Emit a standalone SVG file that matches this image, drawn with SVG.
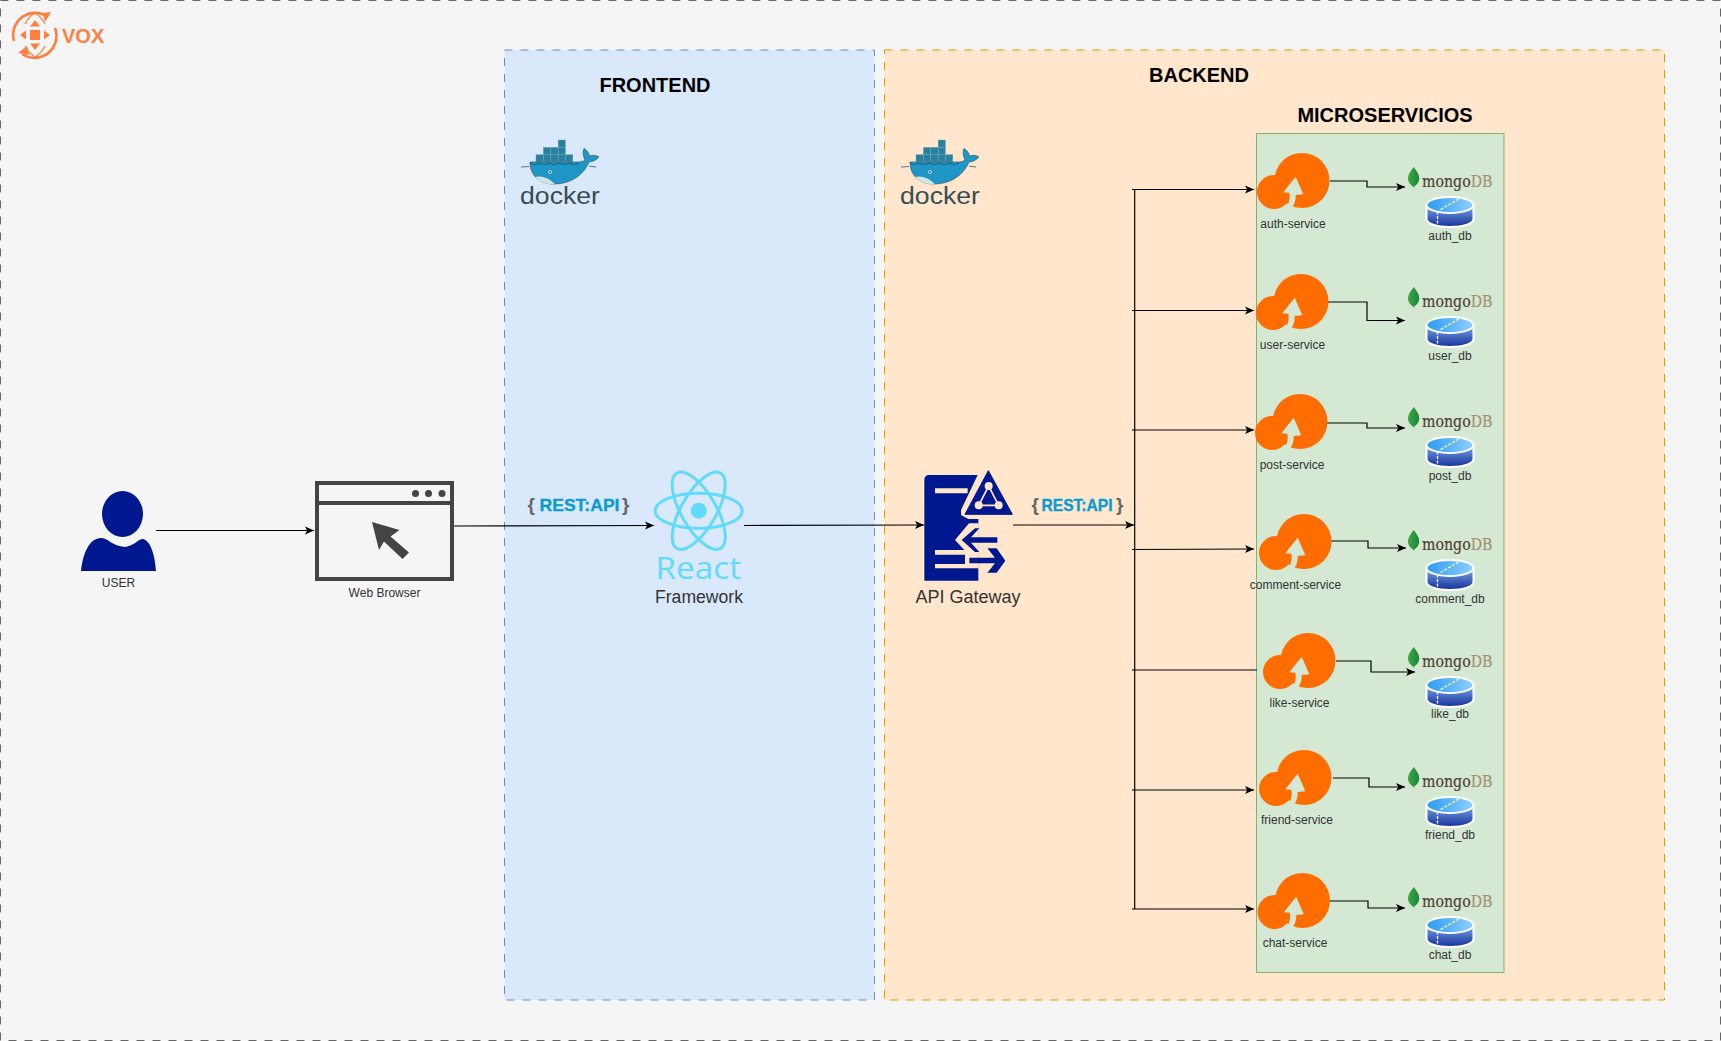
<svg xmlns="http://www.w3.org/2000/svg" width="1721" height="1041" viewBox="0 0 1721 1041">
<style>
text{font-family:"Liberation Sans",Arial,sans-serif;fill:#333}
.lbl{font-size:12px;text-anchor:middle;dominant-baseline:central}
.big{font-size:18px;text-anchor:middle;dominant-baseline:central}
.ttl{font-size:20px;font-weight:bold;text-anchor:middle;fill:#000;dominant-baseline:central}
.c{fill:none;stroke:#000;stroke-width:1.2;marker-end:url(#arr)}
.n{fill:none;stroke:#000;stroke-width:1.2}
.rest{font-size:17px;font-weight:bold;fill:#0b9bd2;stroke:#0b9bd2;stroke-width:.35}
.br{font-size:19px;font-weight:bold;fill:#666}
.docktxt{font-family:"Liberation Sans",sans-serif;font-size:23.500px;fill:#394d54}
.mg{font-family:"DejaVu Serif",serif;font-size:16px;fill:#4f3f2f;stroke:#4f3f2f;stroke-width:.2}
.mgb{fill:#a39070;stroke:#a39070}
.dash{stroke-dasharray:8 8}
</style>
<defs>
<marker id="arr" markerUnits="userSpaceOnUse" markerWidth="10" markerHeight="10" refX="9" refY="5" orient="auto"><path d="M0,1 L9,5 L0,9 L2.2,5Z" fill="#000"/></marker>
<linearGradient id="cylTop" x1="0" y1="0" x2="1" y2="0"><stop offset="0" stop-color="#2e9bf0"/><stop offset="1" stop-color="#8fd0ff"/></linearGradient>
<linearGradient id="cylBody" x1="0" y1="0" x2="0" y2="1"><stop offset="0" stop-color="#7da9e6"/><stop offset="1" stop-color="#13309a"/></linearGradient>
<linearGradient id="leaf" x1="0" y1="0" x2="1" y2="0"><stop offset="0" stop-color="#4aa544"/><stop offset="1" stop-color="#0f8a3c"/></linearGradient>
<symbol id="cloud" width="73" height="57" viewBox="0 0 73 57" overflow="visible">
<circle cx="17" cy="39" r="17" fill="#ff6d00"/><circle cx="45" cy="27.500" r="27.500" fill="#ff6d00"/>
<path d="M38.700,23.700 L26.300,39.300 L32.300,39.700 C33.500,45 32,51 28,56.800 L33.700,56.500 C37.500,52 39,47 38.700,42 L46.300,41.300Z" fill="#d5e8d4"/>
</symbol>
<symbol id="cyl" width="49" height="32" viewBox="0 0 49 32" overflow="visible">
<path d="M1,9 L1,23 C1,27.500 11,31 24.500,31 C38,31 48,27.500 48,23 L48,9Z" fill="url(#cylBody)" stroke="#fff" stroke-width="2"/>
<ellipse cx="24.500" cy="9" rx="23.500" ry="8" fill="url(#cylTop)" stroke="#fff" stroke-width="2"/>
<path d="M15,13.500 L34,2.500 M12,15.500 L12,28" stroke="#fff" stroke-width="1.300" stroke-dasharray="3 1.500" fill="none"/>
</symbol>
<symbol id="mongo" width="86" height="24" viewBox="0 0 86 24" overflow="visible">
<path d="M5.700,0 C8.500,4 11.200,7 11.200,11.500 C11.200,15.500 8,18.500 6.200,19.500 L5.700,21.500 L5.200,19.500 C3,18.500 0,15.500 0,11.500 C0,7 3,4 5.700,0Z" fill="url(#leaf)"/>
<text class="mg" x="14" y="20" textLength="70.500" lengthAdjust="spacingAndGlyphs">mongo<tspan class="mgb">DB</tspan></text>
</symbol>
<symbol id="docker" width="84" height="70" viewBox="0 0 84 70" overflow="visible">
<g fill="#2a7f9e" stroke="#5aa4bd" stroke-width=".4">
<rect x="18" y="14.700" width="7.200" height="7.200"/><rect x="25.400" y="14.700" width="7.200" height="7.200"/><rect x="32.800" y="14.700" width="7.200" height="7.200"/><rect x="40.200" y="14.700" width="7.200" height="7.200"/><rect x="47.600" y="14.700" width="7.200" height="7.200"/>
<rect x="25.400" y="7.400" width="7.200" height="7.200"/><rect x="32.800" y="7.400" width="7.200" height="7.200"/><rect x="40.200" y="7.400" width="7.200" height="7.200"/>
<rect x="40.200" y="0" width="7.200" height="7.200"/>
</g>
<path d="M12,22 L60,22 C63,22 65,21.500 67,20 C65,16 64.500,11 66,8.500 C69,10 71,13 71.500,16 C74.500,15 78,15 81,17 C78,20.500 74,22 71,22 C66,34 54,44 36,44 C22,44 12,36 12,22Z" fill="#1f97c6" stroke="#3d5a66" stroke-width=".7"/>
<path d="M17,37 C23,35 31,38 37,44 C29,45 22,42 17,37Z" fill="#cfe4e4"/>
<path d="M3,27 L11,26.500 M71,26 L78,27" stroke="#5a7680" stroke-width="1"/>
<path d="M12,23 C16,25 18,25 21,23 C25,25 28,25 31,23 C35,25 38,25 41,23 C45,25 48,25 51,23 C55,25 58,25 61,23" fill="none" stroke="#13607f" stroke-width="1"/>
<circle cx="32" cy="32" r="1.800" fill="#e8f3f5"/><circle cx="32" cy="32" r=".9" fill="#394d54"/>
<text class="docktxt" x="2" y="64" textLength="80" lengthAdjust="spacingAndGlyphs">docker</text>
</symbol>
</defs>

<rect id="page" x="0.500" y="0.500" width="1720" height="1040" fill="#f5f5f5" stroke="#666" class="dash"/>

<g id="vox">
<g fill="none" stroke="#ff7f42" stroke-width="2.600">
<path d="M14,41 A22,22 0 0 1 48,17"/>
<path d="M55,28 A22,22 0 0 1 22,54"/>
<path d="M25,24 C28,18 30,16 35,13 C40,16 42,18 45,24 M25,46 C28,52 30,54 35,57 C40,54 42,52 45,46" stroke-width="1.300"/>
</g>
<g fill="#ff7f42">
<path d="M51,12 L45,22 L43,13Z M18,53 L27,46 L29,55Z"/>
<rect x="30" y="30" width="10" height="10"/>
<path d="M35,20 L30,26.500 L40,26.500Z M35,50 L30,43.500 L40,43.500Z M20,35 L26,30.500 L26,39.500Z M50,35 L44,30.500 L44,39.500Z"/>
</g>
<text x="62" y="43" font-size="20" font-weight="bold" style="fill:#ff8046">VOX</text>
</g>

<g id="frontend">
<rect x="504.500" y="50" width="370" height="950" fill="#dae8fc" stroke="#6c8ebf" class="dash"/>
<text class="ttl" x="655" y="85">FRONTEND</text>
<use href="#docker" x="518" y="140"/>
</g>
<g id="backend">
<rect x="884.500" y="50" width="780" height="950" fill="#ffe6cc" stroke="#d79b00" class="dash"/>
<text class="ttl" x="1199" y="75">BACKEND</text>
<use href="#docker" x="898" y="140"/>
</g>
<g id="microservicios">
<rect x="1256.500" y="133.500" width="247.500" height="839" fill="#d5e8d4" stroke="#82b366"/>
<text class="ttl" x="1385" y="115">MICROSERVICIOS</text>
</g>

<g id="connectors">
<path class="c" d="M156,530.500 L314,530.500"/>
<path class="c" d="M454,526 L654,525.500"/>
<path class="c" d="M744,525.500 L924,525"/>
<path class="c" d="M1013,525 L1134,525"/>
<path class="n" d="M1134.700,189 L1134.700,909"/>
<path class="c" d="M1132,189.500 L1254,189.500"/>
<path class="c" d="M1132,310.500 L1254,310.500"/>
<path class="c" d="M1132,430 L1254,430"/>
<path class="c" d="M1132,549.500 L1254,549"/>
<path class="n" d="M1132,670 L1257,670"/>
<path class="c" d="M1132,790 L1254,790"/>
<path class="c" d="M1132,909 L1254,909"/>
<path class="c" d="M1330,181 L1367,181 L1367,187 L1405,187"/>
<path class="c" d="M1328,302 L1367,302 L1367,320.500 L1405,320.500"/>
<path class="c" d="M1327,423 L1367,423 L1367,428 L1405,428"/>
<path class="c" d="M1331,541 L1368,541 L1368,548 L1406,548"/>
<path class="c" d="M1336,661 L1371,661 L1371,672 L1415,672"/>
<path class="c" d="M1333,778 L1369,778 L1369,787 L1405,787"/>
<path class="c" d="M1330,901 L1368,901 L1368,908 L1405,908"/>
</g>

<g id="user">
<ellipse cx="122.500" cy="514" rx="20.500" ry="23" fill="#00188f"/>
<path d="M81,571 C83,552 90,538 101,538 C108,538 112,546 125,547 C134,546 138,539 143,539 C151,541 155,556 156,571Z" fill="#00188f"/>
<text class="lbl" x="118.500" y="583">USER</text>
</g>
<g id="browser">
<rect x="317" y="483" width="135" height="96" fill="none" stroke="#444" stroke-width="4"/>
<path d="M317,503 L452,503" stroke="#444" stroke-width="4"/>
<circle cx="415.500" cy="493.500" r="3.500" fill="#444"/><circle cx="428.500" cy="493.500" r="3.500" fill="#444"/><circle cx="442" cy="493.500" r="3.500" fill="#444"/>
<path d="M372,522 L399.500,530 L390.500,536.500 L409,552.500 L402.500,559 L384,541.500 L379,550Z" fill="#444"/>
<text class="lbl" x="384.500" y="593">Web Browser</text>
</g>
<g id="rest1">
<text class="br" x="527.500" y="511">{</text>
<text class="rest" x="539.500" y="511" textLength="80" lengthAdjust="spacingAndGlyphs">REST:API</text>
<text class="br" x="622" y="511">}</text>
</g>
<g id="react">
<g fill="none" stroke="#61dafb" stroke-width="3">
<ellipse cx="698.700" cy="510.700" rx="43.500" ry="17.500"/>
<ellipse cx="698.700" cy="510.700" rx="43.500" ry="17.500" transform="rotate(60 698.700 510.700)"/>
<ellipse cx="698.700" cy="510.700" rx="43.500" ry="17.500" transform="rotate(-60 698.700 510.700)"/>
</g>
<circle cx="698.700" cy="510.700" r="8" fill="#61dafb"/>
<text x="655.500" y="579" font-size="31" textLength="85.500" lengthAdjust="spacingAndGlyphs" style="fill:#61dafb;font-family:'Open Sans','Liberation Sans',sans-serif">React</text>
<text class="big" x="699" y="597" style="font-size:17.600px">Framework</text>
</g>
<g id="gateway">
<g transform="translate(900 460) scale(.33333)">
<path d="M73,60 Q73,45 88,45 L233,45 L183,150 L183,165 L205,177 L235,177 L235,362 L73,362Z" fill="#00188f"/>
<path d="M105,85 H203 V100 H105Z M105,270 H235 V284 H105Z M105,312 H235 V325 H105Z M195,284 H236 V325 H195Z" fill="#ffe6cc"/>
<path d="M236,190 H207 L165,240 L205,283 H236Z" fill="#ffe6cc"/>
<path d="M225,205 H238 L213,232 H292 V248 H213 L238,276 H225 L185,240Z" fill="#00188f"/>
<path d="M208,293 H285 L262,265 H290 L316,302 L290,338 H262 L285,310 H208Z" fill="#00188f"/>
<path d="M265,32 L337,163 H195Z" fill="#00188f" stroke="#00188f" stroke-width="3" stroke-linejoin="round"/>
<path d="M266,78 L236,136 H296Z" fill="none" stroke="#ffe6cc" stroke-width="5"/>
<circle cx="266" cy="78" r="12" fill="#ffe6cc"/><circle cx="236" cy="136" r="12" fill="#ffe6cc"/><circle cx="296" cy="136" r="12" fill="#ffe6cc"/>
</g>
<text class="big" x="968" y="596.500">API Gateway</text>
</g>
<g id="rest2">
<text class="br" x="1031.500" y="511">{</text>
<text class="rest" x="1041.500" y="511" textLength="71" lengthAdjust="spacingAndGlyphs">REST:API</text>
<text class="br" x="1116" y="511">}</text>
</g>

<g id="auth-service"><use href="#cloud" x="1257" y="153"/><text class="lbl" x="1293" y="223.500">auth-service</text></g>
<g id="user-service"><use href="#cloud" x="1256" y="274"/><text class="lbl" x="1292.500" y="344.500">user-service</text></g>
<g id="post-service"><use href="#cloud" x="1255" y="394"/><text class="lbl" x="1292" y="464.500">post-service</text></g>
<g id="comment-service"><use href="#cloud" x="1259" y="514"/><text class="lbl" x="1295.500" y="584.500">comment-service</text></g>
<g id="like-service"><use href="#cloud" x="1263" y="633"/><text class="lbl" x="1299.500" y="703">like-service</text></g>
<g id="friend-service"><use href="#cloud" x="1259" y="750"/><text class="lbl" x="1297" y="820">friend-service</text></g>
<g id="chat-service"><use href="#cloud" x="1257.500" y="873"/><text class="lbl" x="1295" y="943">chat-service</text></g>

<g id="auth_db"><use href="#mongo" x="1408" y="167"/><use href="#cyl" x="1425.500" y="196"/><text class="lbl" x="1450" y="235.500">auth_db</text></g>
<g id="user_db"><use href="#mongo" x="1408" y="287"/><use href="#cyl" x="1425.500" y="316"/><text class="lbl" x="1450" y="355.500">user_db</text></g>
<g id="post_db"><use href="#mongo" x="1408" y="407"/><use href="#cyl" x="1425.500" y="436"/><text class="lbl" x="1450" y="475.500">post_db</text></g>
<g id="comment_db"><use href="#mongo" x="1408" y="530"/><use href="#cyl" x="1425.500" y="559"/><text class="lbl" x="1450" y="598.500">comment_db</text></g>
<g id="like_db"><use href="#mongo" x="1408" y="647"/><use href="#cyl" x="1425.500" y="676"/><text class="lbl" x="1450" y="713.500">like_db</text></g>
<g id="friend_db"><use href="#mongo" x="1408" y="767"/><use href="#cyl" x="1425.500" y="796"/><text class="lbl" x="1450" y="835">friend_db</text></g>
<g id="chat_db"><use href="#mongo" x="1408" y="887"/><use href="#cyl" x="1425.500" y="916"/><text class="lbl" x="1450" y="955">chat_db</text></g>
</svg>
